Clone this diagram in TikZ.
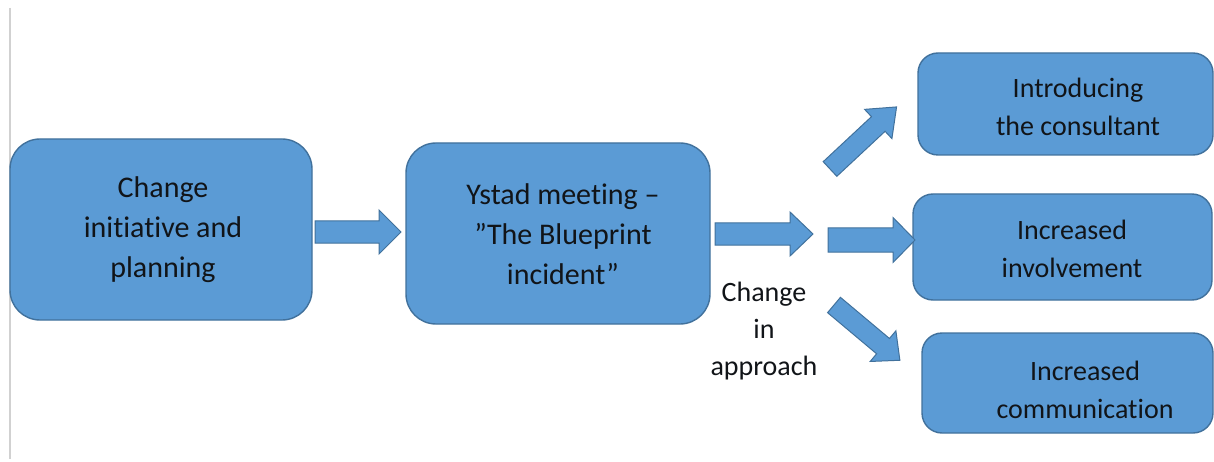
\documentclass[tikz,border=0pt]{standalone}
\usepackage{fontspec}
\setmainfont{Carlito}[Ligatures=NoCommon]
\definecolor{boxfill}{HTML}{5B9BD5}
\definecolor{boxline}{HTML}{41719C}
\definecolor{ink}{HTML}{111418}
\newcommand\blockarr[6]{% tail, angle, length, body half, head half, head length
  \draw[blockarrow, shift={#1}, rotate=#2]
    (0,-#4) -- ({#3-#6},-#4) -- ({#3-#6},-#5) -- (#3,0) -- ({#3-#6},#5) -- ({#3-#6},#4) -- (0,#4) -- cycle;}
\begin{document}
\begin{tikzpicture}[x=1pt,y=-1pt,
  stage/.style={draw=boxline, line width=1.4pt, fill=boxfill, rounded corners=30pt, inner sep=0pt},
  result/.style={draw=boxline, line width=1.4pt, fill=boxfill, rounded corners=20pt, inner sep=0pt},
  bigtext/.style={align=center, text=ink, font=\fontsize{30}{40}\selectfont},
  smalltext/.style={align=center, text=ink, font=\fontsize{28}{38}\selectfont},
  blockarrow/.style={draw=boxline, line width=1pt, fill=boxfill, line join=miter}]
\useasboundingbox (0,0) rectangle (1214,462);
\draw[black!18, line width=1.5pt] (10,8) -- (10,459);

% stage boxes
\node[stage, minimum width=302pt, minimum height=181pt] (A) at (161,229.5) {};
\node[bigtext] (At) at (163,230) {Change\\initiative and\\planning};
\node[stage, minimum width=304pt, minimum height=181pt] (B) at (558,233.5) {};
\node[bigtext] (Bt) at (563,234) {Ystad meeting –\\”The Blueprint\\incident”};

% result boxes
\node[result, minimum width=295pt, minimum height=102pt] (C) at (1065.5,104) {};
\node[smalltext] (Ct) at (1078,107) {Introducing\\the consultant};
\node[result, minimum width=299pt, minimum height=106pt] (D) at (1062.5,247) {};
\node[smalltext] (Dt) at (1072,249) {Increased\\involvement};
\node[result, minimum width=291pt, minimum height=100pt] (E) at (1067.5,383) {};
\node[smalltext] (Et) at (1085,390) {Increased\\communication};

% label
\node[smalltext, font=\fontsize{28}{37}\selectfont] (L) at (764,331) {Change\\in\\approach};

% block arrows
\blockarr{(315,232)}{0}{86}{11}{22}{22}
\blockarr{(715,234)}{0}{98}{11}{22}{23}
\blockarr{(828,240)}{0}{87}{12}{22.5}{22}
\blockarr{(830,169)}{43}{91}{10}{20}{25}
\blockarr{(834,305)}{-40}{86}{10}{20}{22}
\end{tikzpicture}
\end{document}
